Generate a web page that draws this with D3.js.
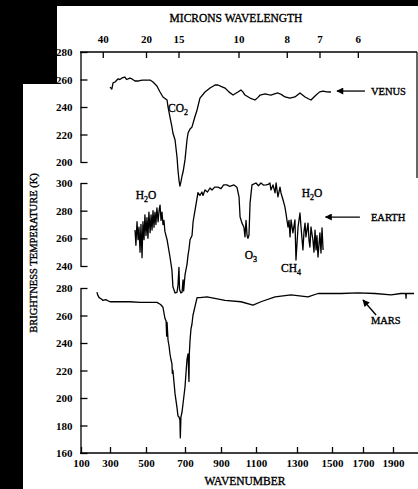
<!DOCTYPE html>
<html><head><meta charset="utf-8">
<script src="https://cdn.jsdelivr.net/npm/d3@7"></script>
<style>
html,body{margin:0;padding:0;background:#fff;}
svg{display:block;}
text{font-family:"Liberation Serif","Times New Roman",serif;fill:#000;}
.heavy{stroke:#000;stroke-width:0.35px;}
</style></head>
<body>
<script>
// ---- data ----
const wavenumberTicks = [100,300,500,700,900,1100,1300,1500,1700,1900];
const micronTicks = [40,20,15,10,8,7,6];
const venusTicks = [200,220,240,260,280];
const earthTicks = [240,260,280,300];
const marsTicks = [160,180,200,220,240,260,280];

const venus = [[300,254.5],[310,253],[317,257.5],[328,258.2],[344,260.4],[355,260],[367,261.1],[383,261.8],[392,260],[400,260.4],[411,261],[422,260.4],[439,258.9],[456,258.9],[470,259.3],[483,259.6],[500,259.6],[521,259.6],[536,258.2],[556,255.3],[572,250.9],[587,247.3],[608,245.1],[613,240],[623,232.7],[633,225.5],[638,221.1],[649,216],[659,203.6],[664,194.2],[669,186.9],[674,182.5],[679,185.5],[685,190],[690,192.7],[700,201.5],[711,216],[717,221.1],[728,224],[739,225.5],[753,232],[767,237.8],[783,246.5],[811,250.9],[839,253.8],[867,256],[883,256],[900,255],[923,253.8],[945,251],[969,248.7],[985,250],[997,250.9],[1014,252.4],[1025,251],[1037,248.7],[1066,246.5],[1094,245.1],[1110,247],[1120,248.7],[1144,249.5],[1160,249],[1173,248.7],[1190,249.5],[1207,250.2],[1225,249],[1241,247.3],[1266,246.5],[1290,247.3],[1317,250.2],[1346,247.3],[1365,246],[1380,245.1],[1409,248.7],[1430,251],[1449,251.6],[1470,251],[1494,250.9]];

const earth = [[439,266],[444,255],[450,272],[456,259],[461,268],[467,250],[472,270],[478,246],[483,272],[489,259],[494,277],[500,262],[505,275],[510,260],[515,279],[521,264],[526,277],[531,266],[536,280],[541,268],[546,279],[551,270],[556,282],[562,272],[567,280],[572,284],[577,273],[582,279],[587,270],[592,273],[597,265],[608,259],[623,246.5],[633,237],[638,225],[649,220.5],[659,221],[664,226],[669,239],[672,223],[679,220.5],[685,221],[690,230],[693,222],[700,233.5],[705,237],[711,241],[717,248],[722,252],[728,259],[739,262],[745,272],[756,280.5],[767,289],[772,293],[783,291],[794,293.5],[800,291],[811,295],[825,293.5],[839,296.4],[850,294.9],[865,297],[883,297],[900,296],[915,298.6],[934,298.6],[950,297.5],[974,298.6],[991,297],[1003,290],[1009,275.4],[1020,271],[1031,268],[1037,261],[1043,273],[1049,262],[1054,260],[1060,262.4],[1066,285.5],[1077,298.6],[1100,300],[1112,298],[1124,300],[1136,298.5],[1149,298.6],[1160,299],[1168,300],[1173,295],[1183,298.6],[1193,292.8],[1198,300],[1207,290],[1217,297],[1222,292.8],[1232,287.7],[1241,282.7],[1246,278.3],[1256,268.2],[1261,273],[1266,261],[1271,273.3],[1280,264],[1290,273.3],[1295,244.3],[1306,268.2],[1317,278.3],[1323,268.2],[1334,251.6],[1340,265],[1346,271],[1351,261],[1363,271],[1369,258],[1374,253.7],[1380,268.2],[1391,258.8],[1397,250],[1403,266],[1409,251.6],[1414,262],[1420,246.5],[1431,264],[1437,249.4],[1443,267.5],[1449,251.6]];

const mars = [[210,277],[215,275],[225,273],[240,272],[252,271],[270,271.5],[300,270],[356,270],[411,270],[467,269.5],[521,269.5],[556,269.5],[575,268],[587,266],[597,258],[603,256],[606,245],[608,255],[613,242],[618,238],[623,232],[628,228],[633,225],[635,218],[638,220],[649,203],[659,193],[664,187],[670,186],[674,184],[676,171],[679,186],[685,190],[690,196],[700,208],[711,228],[717,232],[722,212],[724,232],[728,242],[733,250],[739,254],[744,260],[767,273],[783,273],[822,273.5],[923,271],[1014,270],[1083,267.5],[1124,270],[1193,273.5],[1271,275],[1363,273.5],[1420,276],[1558,276],[1668,276.5],[1780,276],[1887,275],[1953,276],[1985,276],[1987,272.5],[1989,276],[2040,276]];

const annotations = [
  {panel:"venus", wn:664, t:239, parts:[["CO",0],["2",1]], anchor:"middle"},
  {panel:"venus", wn:1753, t:251.6, parts:[["VENUS",0]], anchor:"start"},
  {panel:"earth", wn:500, t:291, parts:[["H",0],["2",1],["O",0]], anchor:"middle"},
  {panel:"earth", wn:1386, t:292.8, parts:[["H",0],["2",1],["O",0]], anchor:"middle"},
  {panel:"earth", wn:1753, t:275.4, parts:[["EARTH",0]], anchor:"start"},
  {panel:"earth", wn:1071, t:248, parts:[["O",0],["3",1]], anchor:"middle"},
  {panel:"earth", wn:1271, t:238.6, parts:[["CH",0],["4",1]], anchor:"middle"},
  {panel:"mars", wn:1753, t:256.7, parts:[["MARS",0]], anchor:"start"}
];
const arrows = [
  {panel:"venus", from:[1713,251.6], to:[1532,251.6]},
  {panel:"earth", from:[1680,275.4], to:[1463,275.4]},
  {panel:"mars", from:[1787,260.4], to:[1700,271.3]}
];

// ---- chart ----
const W = 418, H = 489;
const svg = d3.select("body").append("svg").attr("width", W).attr("height", H);
svg.append("rect").attr("width", W).attr("height", H).attr("fill", "#fff");

const x = d3.scaleLinear().domain(wavenumberTicks)
  .range([81,110,146,185,221,256,297,332,363,393]);
const y = {
  venus: d3.scaleLinear().domain([200,280]).range([162,52]),
  earth: d3.scaleLinear().domain([240,300]).range([266,183]),
  mars: d3.scaleLinear().domain([160,280]).range([453,288])
};

// top axis (microns)
const topAxis = d3.axisTop(x).tickValues(micronTicks.map(m => 10000/m))
  .tickFormat((d,i) => micronTicks[i]).tickSize(-6).tickSizeOuter(0).tickPadding(9);
const gTop = svg.append("g").attr("transform","translate(0,52)").call(topAxis);
gTop.select(".domain").remove();
svg.append("line").attr("x1",80).attr("x2",417).attr("y1",52).attr("y2",52).attr("stroke","#000").attr("stroke-width",1.4);
svg.append("line").attr("x1",417).attr("x2",417).attr("y1",52).attr("y2",178).attr("stroke","#000").attr("stroke-width",1.2);

// bottom axis
const botAxis = d3.axisBottom(x).tickValues(wavenumberTicks).tickFormat(d3.format("d"))
  .tickSize(-6).tickSizeOuter(0).tickPadding(6);
const gBot = svg.append("g").attr("transform","translate(0,453)").call(botAxis);
gBot.select(".domain").remove();
svg.append("line").attr("x1",80).attr("x2",418).attr("y1",453).attr("y2",453).attr("stroke","#000").attr("stroke-width",1.4);

// left axes
function leftAxis(scale, ticks){
  const a = d3.axisLeft(scale).tickValues(ticks).tickSize(-7).tickSizeOuter(0).tickPadding(8);
  const g = svg.append("g").attr("transform","translate(80.5,0)").call(a);
  g.select(".domain").attr("stroke-width",1.3);
  return g;
}
leftAxis(y.venus, venusTicks);
leftAxis(y.earth, earthTicks);
leftAxis(y.mars, marsTicks);

svg.selectAll(".tick text").style("font-family",'"Liberation Serif",serif')
  .style("font-weight","bold").style("font-size","11px");
svg.selectAll(".tick line").attr("stroke-width",1.3);

// series
const series = [["venus", venus],["earth", earth],["mars", mars]];
series.forEach(([p, data]) => {
  const line = d3.line().x(d => x(d[0])).y(d => y[p](d[1]));
  svg.append("path").datum(data).attr("d", line).attr("fill","none")
    .attr("stroke","#000").attr("stroke-width",1.3).attr("stroke-linejoin","round");
});

// annotations
annotations.forEach(a => {
  const t = svg.append("text").attr("class","heavy").attr("x", x(a.wn)).attr("y", y[a.panel](a.t) + 4)
    .attr("text-anchor", a.anchor).style("font-size", a.anchor==="start" ? "10.5px" : "11.5px");
  let sub = false;
  a.parts.forEach(([s, isSub]) => {
    const ts = t.append("tspan").text(s);
    if (isSub && !sub) { ts.attr("dy", 3).style("font-size","8px"); sub = true; }
    else if (!isSub && sub) { ts.attr("dy", -3); sub = false; }
  });
});

// arrows
svg.append("defs").append("marker").attr("id","ah").attr("viewBox","0 0 10 10")
  .attr("refX",9).attr("refY",5).attr("markerWidth",9).attr("markerHeight",7)
  .attr("markerUnits","userSpaceOnUse").attr("orient","auto")
  .append("path").attr("d","M0,0 L10,5 L0,10 z").attr("fill","#000");
arrows.forEach(a => {
  svg.append("line").attr("x1", x(a.from[0])).attr("y1", y[a.panel](a.from[1]))
    .attr("x2", x(a.to[0])).attr("y2", y[a.panel](a.to[1]))
    .attr("stroke","#000").attr("stroke-width",1.3).attr("marker-end","url(#ah)");
});

// titles
svg.append("text").attr("class","heavy").attr("x",236).attr("y",22).attr("text-anchor","middle")
  .style("font-size","11.5px").text("MICRONS WAVELENGTH");
svg.append("text").attr("class","heavy").attr("x",245).attr("y",485).attr("text-anchor","middle")
  .style("font-size","11.5px").text("WAVENUMBER");
svg.append("text").attr("class","heavy").attr("transform","translate(37,253) rotate(-90)").attr("text-anchor","middle")
  .style("font-size","10.5px").text("BRIGHTNESS TEMPERATURE (K)");

// black scan margins
svg.append("rect").attr("x",0).attr("y",0).attr("width",W).attr("height",6).attr("fill","#000");
svg.append("rect").attr("x",0).attr("y",0).attr("width",57).attr("height",84).attr("fill","#000");
svg.append("rect").attr("x",0).attr("y",0).attr("width",23).attr("height",H).attr("fill","#000");
</script>
</body></html>
